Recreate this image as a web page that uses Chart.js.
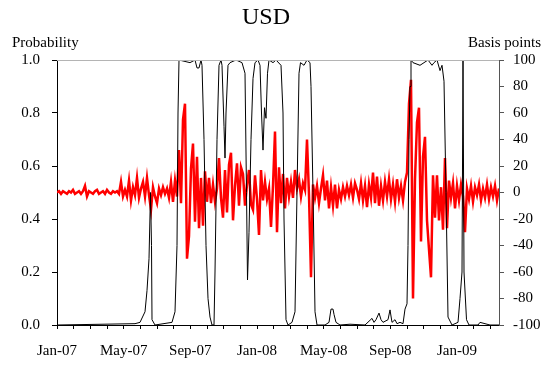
<!DOCTYPE html>
<html><head><meta charset="utf-8">
<script src="https://cdn.jsdelivr.net/npm/chart.js@4/dist/chart.umd.min.js"></script>
<style>html,body{margin:0;padding:0;background:#fff;} #wrap{width:547px;height:367px;position:relative;}</style>
</head><body><div id="wrap"><canvas id="c" width="547" height="367"></canvas></div>
<script>
// Month index 0 = Jan-2007
const xTickLabels = ['Jan-07','May-07','Sep-07','Jan-08','May-08','Sep-08','Jan-09'];

const probMonths = [0,4.68,4.98,5.28,5.40,5.52,5.61,5.67,5.70,5.88,6.90,7.08,7.20,7.26,7.32,7.98,8.28,8.40,8.52,8.64,8.70,8.82,8.94,9.06,9.18,9.30,9.42,9.48,9.60,9.72,9.84,9.90,10.02,10.08,10.14,10.26,10.38,10.74,11.10,11.28,11.37,11.43,11.52,11.64,11.76,11.88,12.06,12.18,12.27,12.36,12.45,12.54,12.63,12.72,12.96,13.14,13.44,13.56,13.62,13.74,13.86,14.10,14.28,14.40,14.52,14.61,14.82,15.00,15.18,15.24,15.36,15.48,15.60,16.08,16.32,16.44,16.56,16.62,16.74,16.98,17.58,18.48,18.90,19.02,19.14,19.32,19.44,19.56,19.86,19.98,20.10,20.28,20.40,20.58,20.76,20.88,21.00,21.06,21.12,21.18,21.24,21.36,21.78,22.26,22.50,22.62,22.80,22.98,23.10,23.22,23.34,23.46,23.70,24.06,24.18,24.30,24.36,24.42,24.57,24.72,25.26,25.38,25.98,26.52];
const probValues = [0,0.005,0.01,0.05,0.13,0.25,0.50,0.3,0.02,0.0,0.01,0.05,0.3,0.8,1.0,0.99,1.0,0.97,0.97,1.0,0.98,0.7,0.3,0.1,0.03,0.0,0.0,0.2,0.7,0.98,1.0,0.98,0.75,0.63,0.8,0.98,0.99,1.0,0.99,0.95,0.5,0.17,0.35,0.7,0.93,0.99,1.0,0.98,0.8,0.66,0.82,0.78,0.95,1.0,0.99,1.0,0.98,0.8,0.4,0.02,0.0,0.01,0.05,0.5,0.95,0.99,0.98,1.0,0.99,0.9,0.5,0.05,0.0,0.0,0.01,0.06,0.06,0.04,0.01,0.0,0.003,0.0,0.025,0.01,0.02,0.045,0.02,0.01,0.02,0.057,0.01,0.02,0.005,0.01,0.005,0.06,0.08,0.3,0.7,0.9,1.0,0.99,0.98,1.0,0.98,0.99,1.0,0.96,0.98,0.92,0.5,0.03,0.0,0.01,0.1,0.2,1.0,0.2,0.02,0.0,0.0,0.01,0.0,0.0];

const bpStartMonth = 0;
const bpStepMonths = 0.12;
const bpValues = [0,1,-1,1,0,-1,1,0,2,-1,0,1,-1,1,5,-3,1,0,-1,1,2,-1,0,1,-1,2,0,-1,1,0,1,-1,
8,-3,
2,-3,9,-6,4,-2,11,-4,3,8,-3,11,-2,-13,4,-3,-8,3,-2,4,-1,3,-4,8,-7,9,
-3,32,-8,55,67,-50,-33,18,37,-22,27,-27,11,-25,16,-7,11,
-8,6,-7,3,
26,-4,-19,17,-15,21,30,-21,5,22,-10,19,14,-10,6,17,-9,-13,13,-5,-32,17,-6,8,-5,3,-26,5,46,-30,19,-8,
14,-12,11,-3,8,-4,17,3,10,-3,7,2,40,-2,-64,6,-4,
5,-8,3,13,-6,9,-12,4,-10,6,-12,2,-5,4,-3,5,-2,6,-4,7,2,-5,7,-6,5,-11,6,-4,15,-8,12,-10,5,-6,8,-3,10,-5,6,-7,10,-4,5,-6,8,
15,67,85,-80,10,53,64,-37,27,42,-21,-43,-64,13,-19,13,-21,4,-28,26,-27,9,
-4,7,-12,5,-6,6,-3,-30,3,-5,5,-7,4,-2,6,-6,3,-4,6,-5,4,-3,5,-6,3];

const FONT = '"Liberation Serif", "Times New Roman", serif';

const textPlugin = {
  id: 'texts',
  afterDraw(chart) {
    const ctx = chart.ctx, a = chart.chartArea;
    ctx.save();
    ctx.strokeStyle = '#b4b4b4';
    ctx.lineWidth = 1;
    ctx.beginPath();
    ctx.moveTo(a.left, Math.round(a.top) + 0.5);
    ctx.lineTo(a.right, Math.round(a.top) + 0.5);
    ctx.stroke();
    ctx.fillStyle = '#000';
    ctx.textBaseline = 'alphabetic';
    ctx.font = '24px ' + FONT;
    ctx.textAlign = 'center';
    ctx.fillText('USD', 266, 24);
    ctx.font = '15px ' + FONT;
    ctx.textAlign = 'left';
    ctx.fillText('Probability', 12, 47);
    ctx.textAlign = 'right';
    ctx.fillText('Basis points', 541, 47);
    ctx.restore();
  }
};

new Chart(document.getElementById('c'), {
  type: 'line',
  data: {
    datasets: [
      {
        label: 'Probability',
        data: probMonths.map((m, i) => ({x: m, y: probValues[i]})),
        yAxisID: 'y',
        borderColor: '#000',
        borderWidth: 1,
        pointRadius: 0,
        tension: 0,
        fill: false
      },
      {
        label: 'Basis points',
        data: bpValues.map((v, i) => ({x: bpStartMonth + i * bpStepMonths, y: v})),
        yAxisID: 'y2',
        borderColor: '#ff0000',
        borderWidth: 2.5,
        pointRadius: 0,
        tension: 0,
        fill: false
      }
    ]
  },
  options: {
    responsive: false,
    animation: false,
    devicePixelRatio: 1,
    layout: {padding: {top: 60, left: 0, right: 0, bottom: 0}},
    plugins: {legend: {display: false}, tooltip: {enabled: false}, title: {display: false}},
    scales: {
      x: {
        type: 'linear', position: 'bottom', min: 0, max: 26.52,
        afterFit: s => { s.height = 42; },
        border: {display: true, color: '#000', width: 1},
        grid: {drawOnChartArea: false, drawTicks: true, tickLength: 4, color: '#000'},
        ticks: {
          stepSize: 1, includeBounds: false, autoSkip: false, maxRotation: 0, minRotation: 0,
          padding: 13, color: '#000', font: {family: FONT, size: 15},
          callback: v => (v % 4 === 0 && xTickLabels[v / 4] !== undefined) ? xTickLabels[v / 4] : ''
        }
      },
      y: {
        type: 'linear', position: 'left', min: 0, max: 1,
        afterFit: s => { s.width = 57; },
        border: {display: true, color: '#000', width: 1},
        grid: {drawOnChartArea: false, drawTicks: true, tickLength: 5, color: '#000'},
        ticks: {stepSize: 0.2, padding: 12, color: '#000', font: {family: FONT, size: 15},
          callback: v => Number(v).toFixed(1)}
      },
      y2: {
        type: 'linear', position: 'right', min: -100, max: 100,
        afterFit: s => { s.width = 48; },
        border: {display: true, color: '#555', width: 1},
        grid: {drawOnChartArea: false, drawTicks: true, tickLength: 5, color: '#555'},
        ticks: {stepSize: 20, padding: 9, color: '#000', font: {family: FONT, size: 15}}
      }
    }
  },
  plugins: [textPlugin]
});
</script>
</body></html>
